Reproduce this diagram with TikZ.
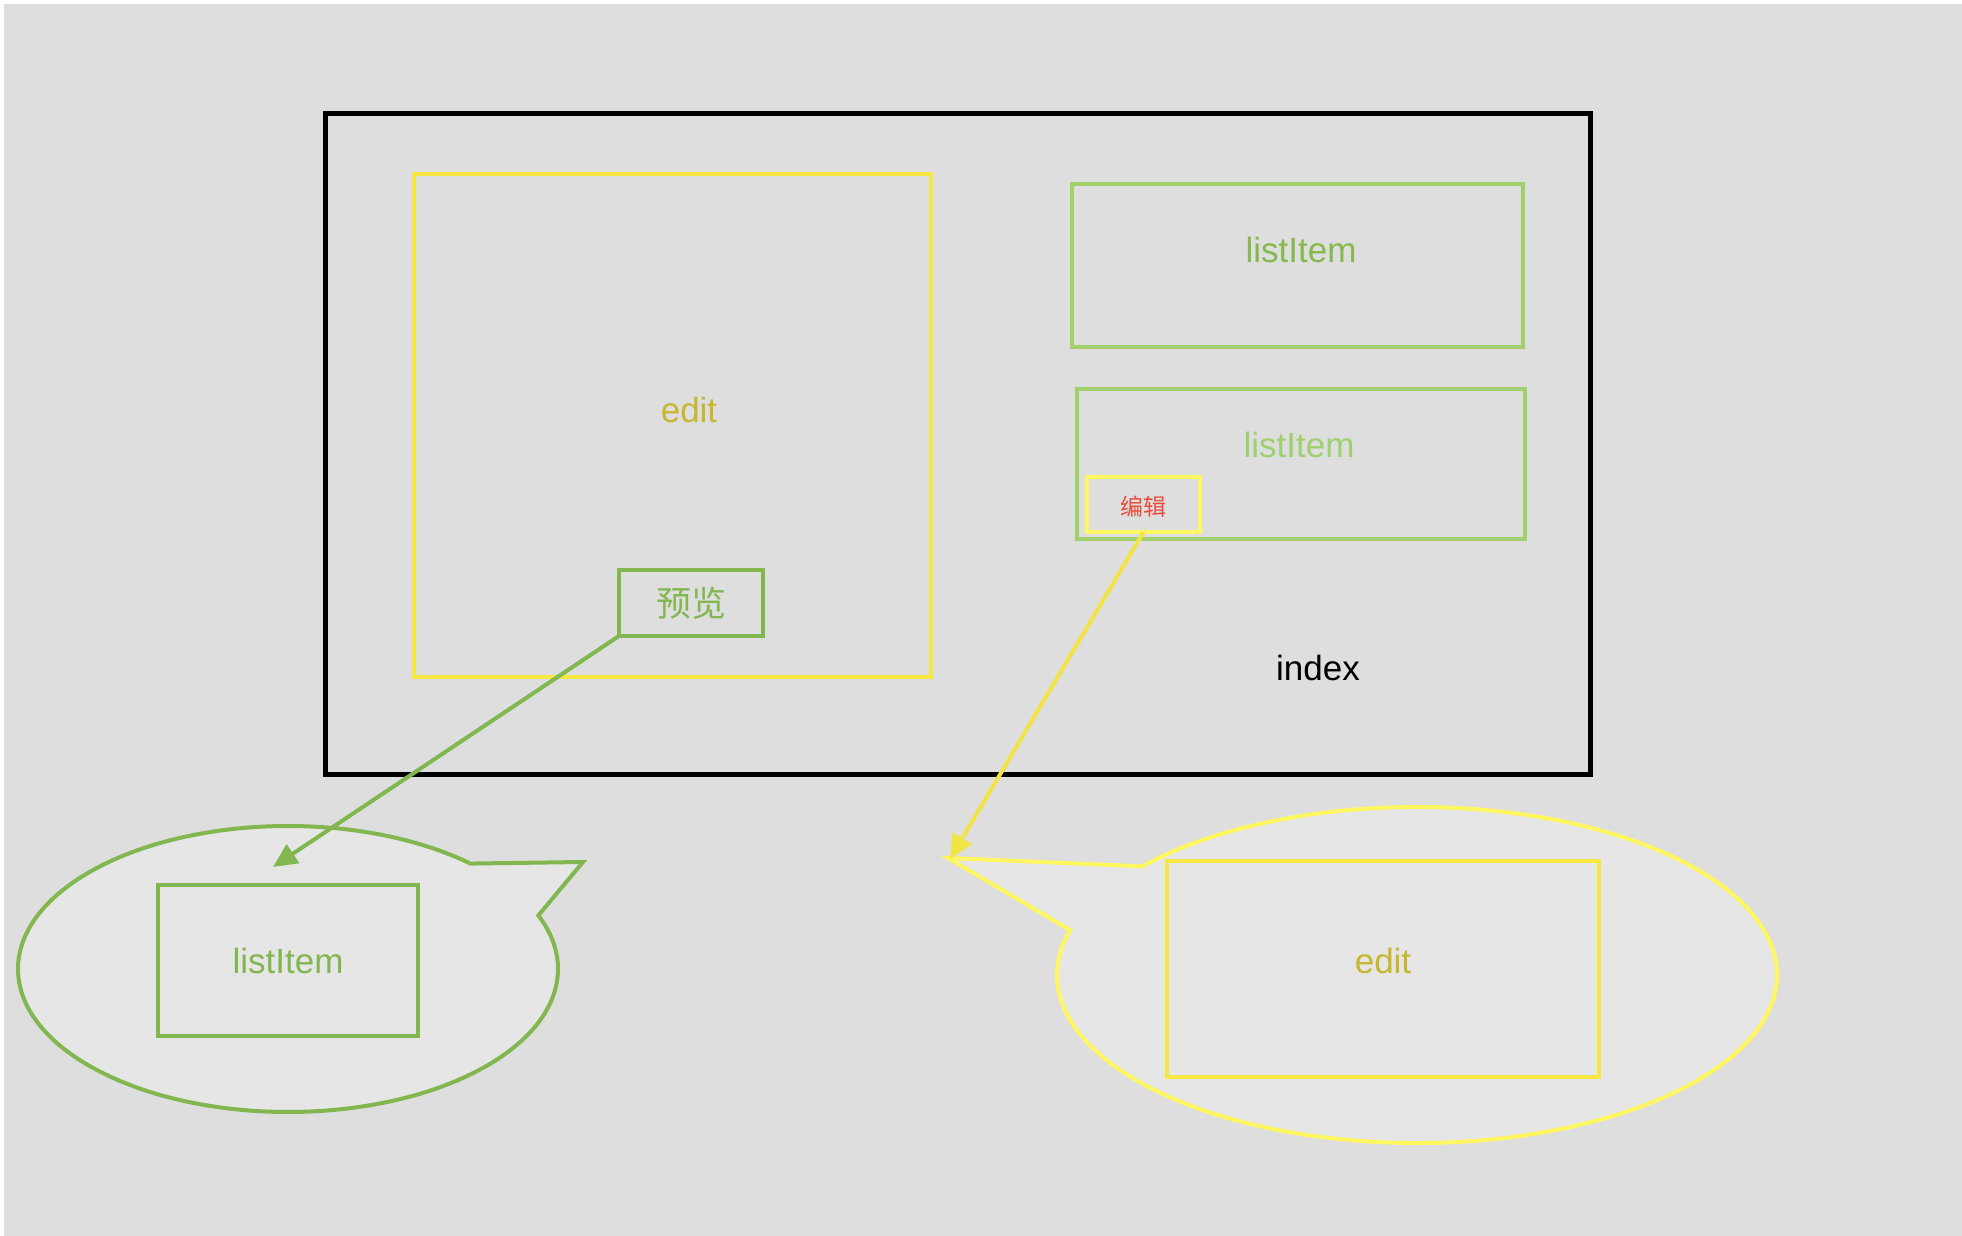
\documentclass[tikz,border=0pt]{standalone}
\usepackage{fontspec}
\setmainfont{Liberation Sans}
\newfontfamily\cjk{Noto Sans CJK SC}
\usetikzlibrary{arrows.meta}
\definecolor{bggray}{HTML}{DEDEDE}
\definecolor{bubblefill}{HTML}{E6E6E6}
\definecolor{gdark}{HTML}{82B74F}
\definecolor{glight}{HTML}{A3CF6D}
\definecolor{gtext}{HTML}{86B94C}
\definecolor{gtextlight}{HTML}{9FD06E}
\definecolor{yrect}{HTML}{F6E742}
\definecolor{ybright}{HTML}{FFF760}
\definecolor{yarrow}{HTML}{F3E446}
\definecolor{olivetext}{HTML}{C7B730}
\definecolor{redtext}{HTML}{EA4B3B}
\begin{document}
\begin{tikzpicture}[x=1pt,y=1pt,
  rectbox/.style={draw, rectangle, inner sep=0pt, outer sep=0pt, line width=4pt},
  lbl/.style={inner sep=0pt, font=\fontsize{35}{40}\selectfont},
  cjklbl/.style={inner sep=0pt, font=\cjk\fontsize{35}{40}\selectfont},
  bubble/.style={line width=4pt, fill=bubblefill, line join=miter},
  conn/.style={line width=4pt}]
\useasboundingbox (0,0) rectangle (1962,1236);
\fill[white] (0,0) rectangle (1962,1236);
\fill[bggray] (4,0) rectangle (1962,1232);

% main index frame
\node[rectbox, draw=black, line width=5pt, minimum width=1265pt, minimum height=661pt] (index) at (957.5,791.5) {};
\node[lbl, text=black] (indexlbl) at (1318,568) {index};

% edit area
\node[rectbox, draw=yrect, minimum width=517pt, minimum height=503pt] (edit) at (672.5,810.5) {};
\node[lbl, text=olivetext] (editlbl) at (689,826) {edit};
\node[rectbox, draw=gdark, minimum width=144pt, minimum height=66pt] (preview) at (691,633) {};
\node[cjklbl, text=gdark] (previewlbl) at (691,633) {预览};

% list items
\node[rectbox, draw=glight, minimum width=451pt, minimum height=163pt] (li1) at (1297.5,970.5) {};
\node[lbl, text=gtext] (li1lbl) at (1301,986) {listItem};
\node[rectbox, draw=glight, minimum width=448pt, minimum height=150pt] (li2) at (1301,772) {};
\node[lbl, text=gtextlight] (li2lbl) at (1299,791) {listItem};
\node[rectbox, draw=ybright, minimum width=113pt, minimum height=55pt] (bianji) at (1143.5,731.5) {};
\node[inner sep=0pt, font=\cjk\fontsize{23}{26}\selectfont, text=redtext] (bianjilbl) at (1143.5,729) {编辑};

% green callout
\draw[bubble, draw=gdark] (288,267) ++(47.5:270pt and 143pt)
  arc[start angle=47.5, end angle=382, x radius=270pt, y radius=143pt]
  -- (583,374) -- cycle;
\node[rectbox, draw=gdark, minimum width=260pt, minimum height=151pt] (gli) at (288,275.5) {};
\node[lbl, text=gdark] (glilbl) at (288,275) {listItem};

% yellow callout
\draw[bubble, draw=ybright] (1417,261) ++(164.5:360pt and 168pt)
  arc[start angle=164.5, end angle=499.7, x radius=360pt, y radius=168pt]
  -- (948,378) -- cycle;
\node[rectbox, draw=yrect, minimum width=432pt, minimum height=216pt] (yedit) at (1383,267) {};
\node[lbl, text=olivetext] (yeditlbl) at (1383,275) {edit};

% connectors
\coordinate (gtip) at (273,369);
\coordinate (ytip) at (950,377);
\draw[conn, draw=gdark, -{Triangle[length=24pt,width=22pt]}] (preview.south west) -- (gtip);
\draw[conn, draw=yarrow, -{Triangle[length=24pt,width=22pt]}] (bianji.south) -- (ytip);
\end{tikzpicture}
\end{document}
